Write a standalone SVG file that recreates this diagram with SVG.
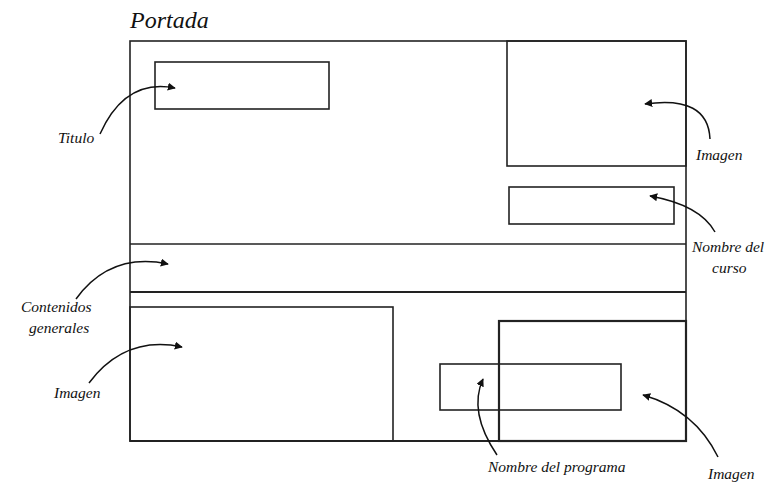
<svg xmlns="http://www.w3.org/2000/svg" width="774" height="485" viewBox="0 0 774 485">
<defs>
<style>
.box{fill:none;stroke:#222;stroke-width:1.6}
.thick{fill:none;stroke:#222;stroke-width:2.2}
.arr{fill:none;stroke:#111;stroke-width:1.5;marker-end:url(#ah)}
.lbl{font-family:"Liberation Serif","DejaVu Serif",serif;font-style:italic;font-size:15.5px;fill:#111}
.ttl{font-family:"Liberation Serif","DejaVu Serif",serif;font-style:italic;font-size:24px;fill:#111}
</style>
<marker id="ah" viewBox="0 0 10 10" refX="9" refY="5" markerWidth="8" markerHeight="8" orient="auto" markerUnits="userSpaceOnUse">
<path d="M0,0 L10,5 L0,10 Z" fill="#111"/>
</marker>
</defs>
<rect width="774" height="485" fill="#fff"/>
<text class="ttl" x="130" y="28">Portada</text>
<g id="page">
<rect class="box" x="130" y="41" width="556" height="400"/>
<line class="thick" x1="130" y1="441" x2="686" y2="441"/>
</g>
<g id="titulo-box"><rect class="box" x="155" y="62" width="174" height="47"/></g>
<g id="imagen-top"><rect class="box" x="507" y="41" width="179" height="125"/></g>
<g id="curso-box"><rect class="box" x="509" y="187" width="165" height="37"/></g>
<g id="contenidos-band">
<line class="box" x1="130" y1="244" x2="686" y2="244"/>
<line class="thick" x1="130" y1="292" x2="686" y2="292"/>
</g>
<g id="imagen-left"><rect class="box" x="130" y="307" width="263" height="134"/></g>
<g id="imagen-right"><rect class="thick" x="499" y="321" width="187" height="120"/></g>
<g id="programa-box"><rect class="box" x="440" y="364" width="181" height="46"/></g>
<g id="connectors">
<path class="arr" d="M100,134 Q125,78 175,88"/>
<path class="arr" d="M710,139 Q708,95 645,104"/>
<path class="arr" d="M715,232 Q700,205 650,196"/>
<path class="arr" d="M76,299 Q110,252 168,264"/>
<path class="arr" d="M89,383 Q125,335 182,347"/>
<path class="arr" d="M497,455 Q468,412 483,379"/>
<path class="arr" d="M718,457 Q695,410 643,395"/>
</g>
<g id="labels">
<text class="lbl" x="58" y="143">Titulo</text>
<text class="lbl" x="696" y="160">Imagen</text>
<text class="lbl" x="692" y="252">Nombre del</text>
<text class="lbl" x="712" y="273">curso</text>
<text class="lbl" x="21" y="312">Contenidos</text>
<text class="lbl" x="29" y="333">generales</text>
<text class="lbl" x="54" y="398">Imagen</text>
<text class="lbl" x="488" y="472">Nombre del programa</text>
<text class="lbl" x="708" y="479">Imagen</text>
</g>
</svg>
